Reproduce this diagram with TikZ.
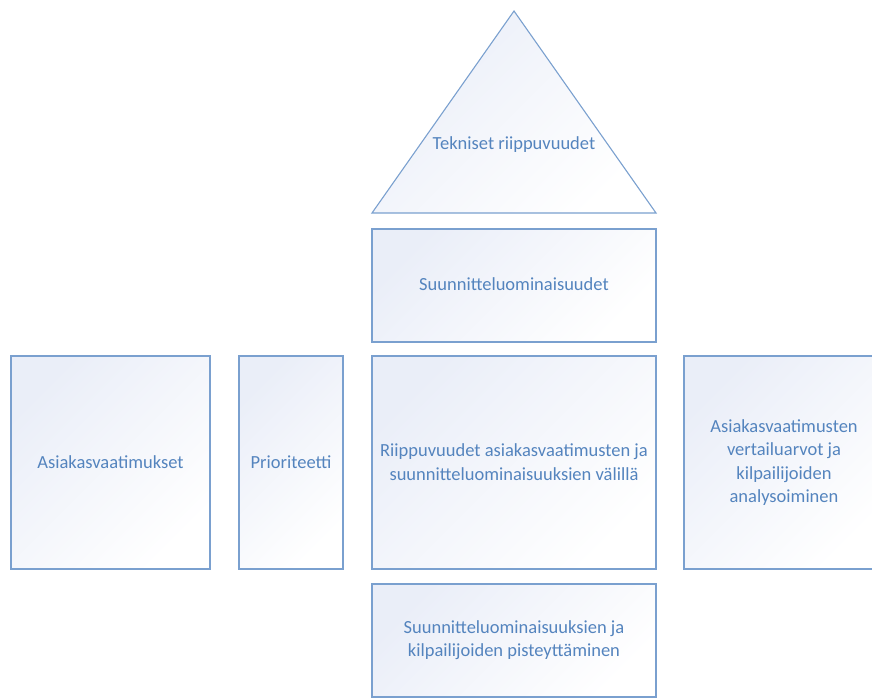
\documentclass[tikz,border=0pt]{standalone}
\usepackage{fontspec}
\setmainfont{Carlito}
\begin{document}
\begin{tikzpicture}[x=1pt,y=-1pt]
  \definecolor{edgeblue}{RGB}{122,160,207}
  \definecolor{textblue}{RGB}{84,132,190}
  \definecolor{paleblue}{RGB}{234,238,248}
  \tikzset{
    panel/.style={draw=edgeblue, line width=1.1pt,
      top color=paleblue, bottom color=white, shading angle=45},
    label/.style={text=textblue, align=center, font=\fontsize{18.5}{23.3}\selectfont}
  }
  \useasboundingbox (0,0) rectangle (872,698);
  \clip (0,0) rectangle (872,698);
  % roof
  \coordinate (apex) at (514,11);
  \coordinate (bl) at (372,213);
  \coordinate (br) at (656,213);
  \path[panel] (apex) -- (br) -- (bl) -- cycle;
  \node[label] (roof) at (514,145) {Tekniset riippuvuudet};
  % boxes
  \path[panel] (372,229) rectangle (656,342);
  \node[label] (design) at (514,284) {Suunnitteluominaisuudet};
  \path[panel] (11,356) rectangle (210,569);
  \node[label] (req) at (110.5,462.5) {Asiakasvaatimukset};
  \path[panel] (239,356) rectangle (343,569);
  \node[label] (prio) at (291,462.5) {Prioriteetti};
  \path[panel] (372,356) rectangle (656,569);
  \node[label] (rel) at (514,462) {Riippuvuudet asiakasvaatimusten ja\\suunnitteluominaisuuksien välillä};
  \path[panel] (684,356) rectangle (884,569);
  \node[label] (bench) at (784,462.5) {Asiakasvaatimusten\\vertailuarvot ja\\kilpailijoiden\\analysoiminen};
  \path[panel] (372,584) rectangle (656,697);
  \node[label] (score) at (514,640) {Suunnitteluominaisuuksien ja\\kilpailijoiden pisteyttäminen};
\end{tikzpicture}
\end{document}
